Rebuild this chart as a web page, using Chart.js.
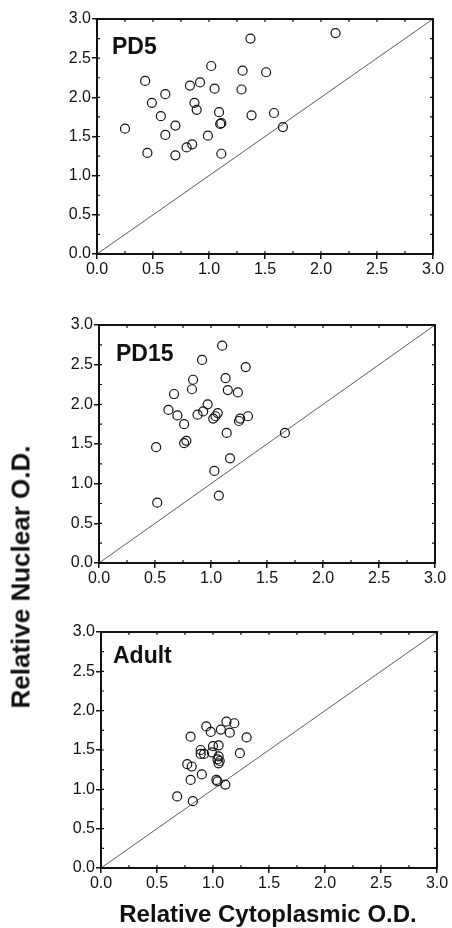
<!DOCTYPE html>
<html>
<head>
<meta charset="utf-8">
<script src="https://cdn.jsdelivr.net/npm/chart.js@4/dist/chart.umd.min.js"></script>
<style>
  body { margin: 0; background: #fff; width: 452px; height: 928px; position: relative; overflow: hidden; }
  canvas { position: absolute; left: 0; }
  .title { position: absolute; font-family: "Liberation Sans", Arial, sans-serif; font-weight: bold; color: #111; white-space: nowrap; }
  #yTitle { font-size: 26px; left: 21px; top: 577px; transform: translate(-50%, -50%) rotate(-90deg); }
  #xTitle { font-size: 24px; left: 268px; top: 914px; transform: translate(-50%, -50%); }
</style>
</head>
<body>
<canvas id="c1"></canvas>
<canvas id="c2"></canvas>
<canvas id="c3"></canvas>
<div class="title" id="yTitle">Relative Nuclear O.D.</div>
<div class="title" id="xTitle">Relative Cytoplasmic O.D.</div>
<script>
// tick values shared by both axes
const axisTicks = [0, 0.5, 1.0, 1.5, 2.0, 2.5, 3.0];
const identityLine = [0, 3];

// PD5
const pd5X = [0.25, 0.43, 0.45, 0.49, 0.57, 0.61, 0.61, 0.70, 0.70, 0.80, 0.83, 0.85, 0.87, 0.89, 0.92,
              0.99, 1.02, 1.05, 1.09, 1.10, 1.11, 1.11, 1.29, 1.30, 1.37, 1.38, 1.51, 1.58, 1.66, 2.13];
const pd5Y = [1.60, 2.21, 1.29, 1.93, 1.76, 2.04, 1.52, 1.64, 1.26, 1.36, 2.15, 1.40, 1.93, 1.84, 2.19,
              1.51, 2.40, 2.11, 1.81, 1.66, 1.67, 1.28, 2.10, 2.34, 2.75, 1.77, 2.32, 1.80, 1.62, 2.82];

// PD15
const pd15X = [0.51, 0.52, 0.62, 0.67, 0.70, 0.76, 0.76, 0.78, 0.83, 0.84, 0.88, 0.92, 0.93, 0.97, 1.02,
               1.03, 1.04, 1.06, 1.07, 1.10, 1.13, 1.14, 1.15, 1.17, 1.24, 1.25, 1.26, 1.31, 1.33, 1.66];
const pd15Y = [1.46, 0.76, 1.93, 2.13, 1.86, 1.75, 1.51, 1.54, 2.19, 2.31, 1.87, 2.56, 1.91, 2.00, 1.82,
               1.16, 1.85, 1.89, 0.85, 2.74, 2.33, 1.64, 2.18, 1.32, 2.15, 1.79, 1.82, 2.47, 1.85, 1.64];

// Adult
const adultX = [0.68, 0.77, 0.80, 0.80, 0.81, 0.82, 0.89, 0.89, 0.90, 0.92, 0.94, 0.98, 0.99, 1.00, 1.03,
                1.04, 1.05, 1.05, 1.05, 1.07, 1.12, 1.11, 1.15, 1.19, 1.24, 1.30, 1.04, 1.06];
const adultY = [0.91, 1.32, 1.67, 1.12, 1.29, 0.85, 1.50, 1.45, 1.19, 1.45, 1.80, 1.73, 1.47, 1.55, 1.12,
                1.10, 1.42, 1.33, 1.56, 1.76, 1.86, 1.06, 1.72, 1.84, 1.46, 1.66, 1.38, 1.36];

const FONT = '"Liberation Sans", Arial, sans-serif';

const panels = [
  { id: 'c1', label: 'PD5', xs: pd5X, ys: pd5Y, top: 19, bottom: 254, left: 97, right: 433, lx: 15, ly: 35 },
  { id: 'c2', label: 'PD15', xs: pd15X, ys: pd15Y, top: 325, bottom: 563, left: 99, right: 435, lx: 17, ly: 36 },
  { id: 'c3', label: 'Adult', xs: adultX, ys: adultY, top: 632, bottom: 868, left: 101, right: 437, lx: 12, ly: 31 }
];

// box frame, inward minor ticks and the panel label
const framePlugin = {
  id: 'frame',
  afterDraw(chart, args, opts) {
    const { ctx, chartArea: a, scales } = chart;
    ctx.save();
    ctx.strokeStyle = '#111';
    ctx.lineWidth = 1.2;
    ctx.beginPath();
    for (let v = 0.25; v < 3; v += 0.25) {
      const px = scales.x.getPixelForValue(v);
      const py = scales.y.getPixelForValue(v);
      ctx.moveTo(px, a.bottom); ctx.lineTo(px, a.bottom - 3);
      ctx.moveTo(px, a.top); ctx.lineTo(px, a.top + 3);
      ctx.moveTo(a.left, py); ctx.lineTo(a.left + 3, py);
      ctx.moveTo(a.right, py); ctx.lineTo(a.right - 3, py);
    }
    ctx.stroke();
    ctx.lineWidth = 2;
    ctx.strokeRect(a.left, a.top, a.right - a.left, a.bottom - a.top);
    ctx.fillStyle = '#111';
    ctx.font = 'bold 23px ' + FONT;
    ctx.textBaseline = 'alphabetic';
    ctx.fillText(opts.label, a.left + opts.lx, a.top + opts.ly);
    ctx.restore();
  }
};

panels.forEach(p => {
  const padTop = 12;
  const xAxisH = 40;
  const canvas = document.getElementById(p.id);
  const h = (p.bottom - p.top) + padTop + xAxisH;
  canvas.style.top = (p.top - padTop) + 'px';
  canvas.style.width = '452px';
  canvas.style.height = h + 'px';
  canvas.width = 452;
  canvas.height = h;

  const points = p.xs.map((x, i) => ({ x: x, y: p.ys[i] }));

  const axisCommon = {
    min: 0,
    max: 3,
    border: { display: false },
    grid: { drawOnChartArea: false, drawTicks: true, tickLength: 5, color: '#111', lineWidth: 1.5 },
    afterBuildTicks: axis => { axis.ticks = axisTicks.map(v => ({ value: v })); },
    ticks: {
      color: '#111',
      font: { family: FONT, size: 16 },
      callback: v => Number(v).toFixed(1),
      maxRotation: 0,
      autoSkip: false
    }
  };

  new Chart(canvas.getContext('2d'), {
    type: 'scatter',
    data: {
      datasets: [
        {
          data: points,
          pointStyle: 'circle',
          pointRadius: 4.5,
          borderWidth: 1.2,
          borderColor: '#111',
          backgroundColor: 'rgba(0,0,0,0)',
          order: 1
        },
        {
          type: 'line',
          data: identityLine.map(v => ({ x: v, y: v })),
          borderColor: '#333',
          borderWidth: 0.8,
          pointRadius: 0,
          order: 2
        }
      ]
    },
    options: {
      responsive: false,
      animation: false,
      layout: { padding: { top: padTop, right: 452 - p.right, left: 0, bottom: 0 } },
      plugins: {
        legend: { display: false },
        tooltip: { enabled: false },
        frame: { label: p.label, lx: p.lx, ly: p.ly }
      },
      scales: {
        x: Object.assign({}, axisCommon, {
          type: 'linear',
          ticks: Object.assign({}, axisCommon.ticks, { padding: 1 }),
          afterFit: s => { s.height = xAxisH; }
        }),
        y: Object.assign({}, axisCommon, {
          type: 'linear',
          ticks: Object.assign({}, axisCommon.ticks, { padding: 1 }),
          afterFit: s => { s.width = p.left; }
        })
      }
    },
    plugins: [framePlugin]
  });
});
</script>
</body>
</html>
